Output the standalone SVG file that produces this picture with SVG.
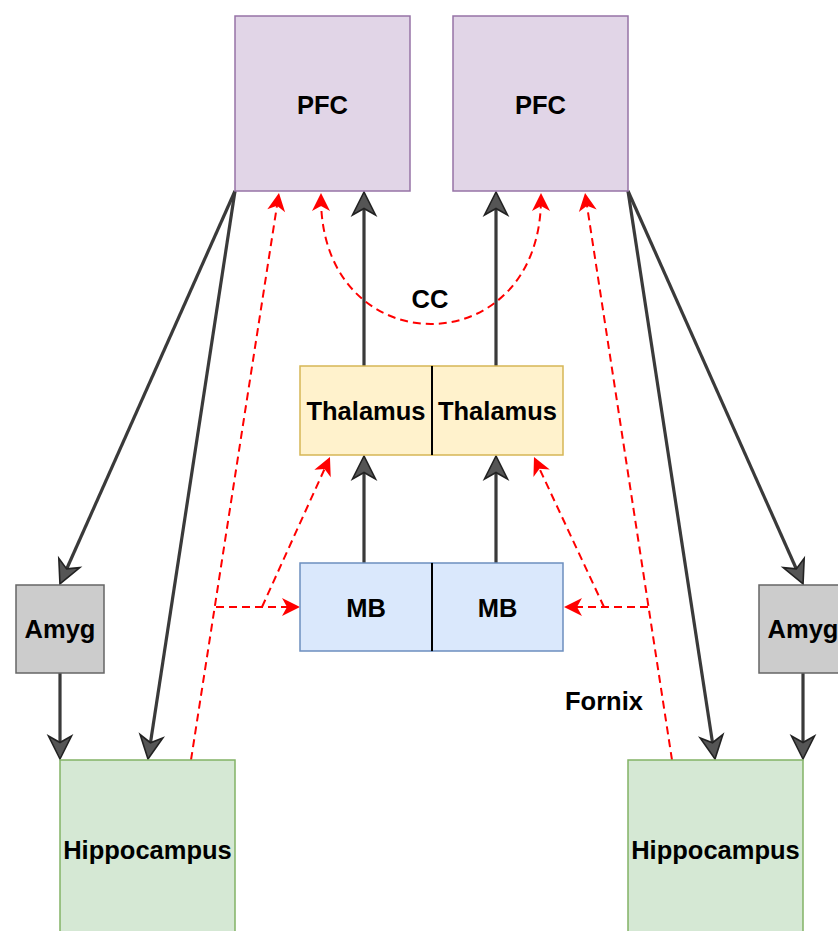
<svg xmlns="http://www.w3.org/2000/svg" width="838" height="931" viewBox="0 0 838 931">
<style>
  .lbl{font-family:"Liberation Sans",Arial,Helvetica,sans-serif;font-weight:bold;font-size:25.5px;fill:#000;text-anchor:middle}
  .pfc{fill:#e1d5e7;stroke:#9673a6;stroke-width:1.5}
  .thal{fill:#fff2cc;stroke:#d6b656;stroke-width:1.5}
  .mb{fill:#dae8fc;stroke:#6c8ebf;stroke-width:1.5}
  .amyg{fill:#cccccc;stroke:#666666;stroke-width:1.5}
  .hip{fill:#d5e8d4;stroke:#82b366;stroke-width:1.5}
  .div{stroke:#000;stroke-width:2}
  .blk{fill:none;stroke:#3a3a3a;stroke-width:3.2;marker-end:url(#ab)}
  .red{fill:none;stroke:#ff0000;stroke-width:2;stroke-dasharray:8 5}
  .ra{marker-end:url(#ar)}
</style>
<defs>
  <marker id="ab" markerUnits="userSpaceOnUse" markerWidth="26" markerHeight="26" refX="17" refY="12" orient="auto" overflow="visible">
    <path d="M23,12 L0,0.5 L6.5,12 L0,23.5 Z" fill="#555" stroke="#222" stroke-width="1.6" stroke-linejoin="miter"/>
  </marker>
  <marker id="ar" markerUnits="userSpaceOnUse" markerWidth="20" markerHeight="20" refX="13" refY="9" orient="auto-start-reverse" overflow="visible">
    <path d="M18,9 L0,0 L5,9 L0,18 Z" fill="#ff0000"/>
  </marker>
</defs>

<g id="connectors">
  <line class="blk" x1="235" y1="191" x2="62.4" y2="578.5"/>
  <line class="blk" x1="235" y1="191" x2="148.9" y2="753.1"/>
  <line class="blk" x1="60" y1="673" x2="60" y2="753"/>
  <line class="blk" x1="364" y1="366" x2="364" y2="198"/>
  <line class="blk" x1="496" y1="366" x2="496" y2="198"/>
  <line class="blk" x1="364" y1="563" x2="364" y2="462"/>
  <line class="blk" x1="496" y1="563" x2="496" y2="462"/>
  <line class="blk" x1="628" y1="191" x2="800.6" y2="578.5"/>
  <line class="blk" x1="628" y1="191" x2="714.1" y2="753.1"/>
  <line class="blk" x1="803" y1="673" x2="803" y2="753"/>

  <line class="red ra" x1="191" y1="760" x2="278.2" y2="197.9"/>
  <line class="red ra" x1="216" y1="607" x2="295" y2="607"/>
  <line class="red ra" x1="262" y1="607" x2="327.9" y2="461.6"/>
  <line class="red ra" x1="672" y1="760" x2="585.8" y2="197.9"/>
  <line class="red ra" x1="648" y1="607" x2="569" y2="607"/>
  <line class="red ra" x1="604" y1="607" x2="536.1" y2="461.5"/>
  <path class="red" d="M321,198 C321,366 541,366 541,198" marker-start="url(#ar)" marker-end="url(#ar)"/>
  <text class="lbl" x="430" y="308">CC</text>
  <text class="lbl" x="604" y="710">Fornix</text>
</g>

<g id="pfc-left"><rect class="pfc" x="235" y="16" width="175" height="175"/><text class="lbl" x="322.5" y="114">PFC</text></g>
<g id="pfc-right"><rect class="pfc" x="453" y="16" width="175" height="175"/><text class="lbl" x="540.5" y="114">PFC</text></g>

<g id="thalamus-left"><rect class="thal" x="300" y="366" width="132" height="89"/><text class="lbl" x="366" y="420">Thalamus</text></g>
<g id="thalamus-right"><rect class="thal" x="432" y="366" width="131" height="89"/><text class="lbl" x="497.5" y="420">Thalamus</text></g>
<line class="div" x1="432" y1="366" x2="432" y2="455"/>

<g id="mb-left"><rect class="mb" x="300" y="563" width="132" height="88"/><text class="lbl" x="366" y="617">MB</text></g>
<g id="mb-right"><rect class="mb" x="432" y="563" width="131" height="88"/><text class="lbl" x="497.5" y="617">MB</text></g>
<line class="div" x1="432" y1="563" x2="432" y2="651"/>

<g id="amyg-left"><rect class="amyg" x="16" y="585" width="88" height="88"/><text class="lbl" x="60" y="638">Amyg</text></g>
<g id="amyg-right"><rect class="amyg" x="759" y="585" width="88" height="88"/><text class="lbl" x="803" y="638">Amyg</text></g>

<g id="hippocampus-left"><rect class="hip" x="60" y="760" width="175" height="175"/><text class="lbl" x="147.5" y="859">Hippocampus</text></g>
<g id="hippocampus-right"><rect class="hip" x="628" y="760" width="175" height="175"/><text class="lbl" x="715.5" y="859">Hippocampus</text></g>
</svg>
